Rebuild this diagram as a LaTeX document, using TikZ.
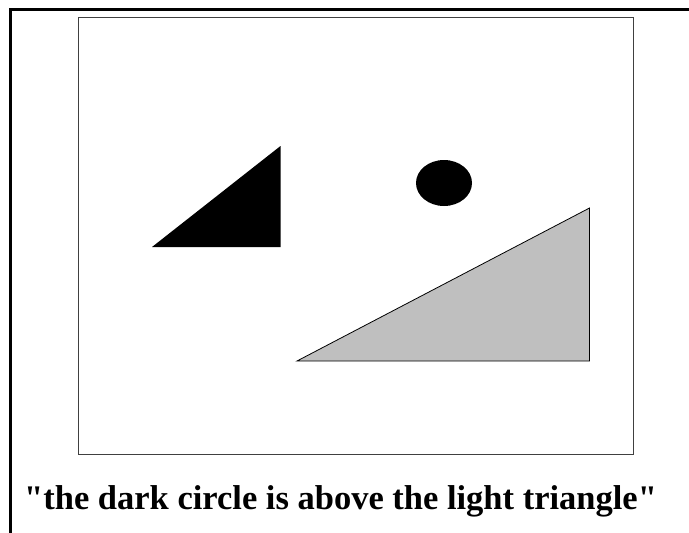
\documentclass[tikz,border=0pt]{standalone}
\usepackage{fontspec}
\setmainfont{Liberation Serif}[Ligatures=TeXOff]
\definecolor{lightgrey}{HTML}{BFBFBF}
\begin{document}
\begin{tikzpicture}[x=1pt,y=-1pt,
  frameline/.style={line width=3pt},
  panel/.style={draw=black!75,line width=0.9pt},
  shapeline/.style={draw=black,line width=0.8pt,line join=miter}]
\useasboundingbox (0,0) rectangle (689,533);
\draw[frameline] (10.5,533) -- (10.5,9) -- (689,9);
\draw[panel] (78.8,17.8) rectangle (633.5,454.2);
\fill[black] (152,247) -- (280.5,146) -- (280.5,247) -- cycle;
\fill[black] (444,183) ellipse [x radius=28, y radius=23];
\filldraw[fill=lightgrey,shapeline] (297,361) -- (589.5,208) -- (589.5,361) -- cycle;
\node[anchor=base west,inner sep=0pt,font=\fontsize{34.5}{40}\selectfont\bfseries] (caption) at (24,509.3) {"the dark circle is above the light triangle"};
\end{tikzpicture}
\end{document}
